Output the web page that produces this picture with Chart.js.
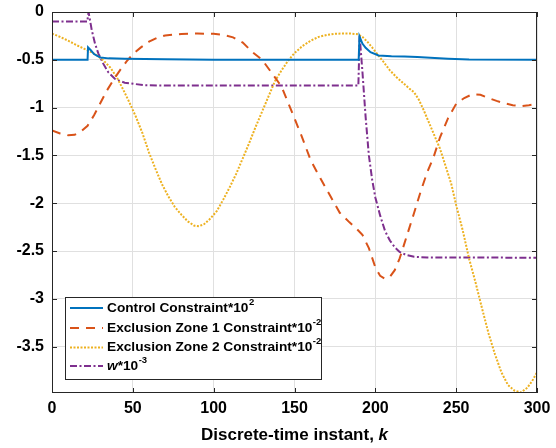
<!DOCTYPE html>
<html>
<head>
<meta charset="utf-8">
<script src="https://cdn.jsdelivr.net/npm/chart.js@4/dist/chart.umd.min.js"></script>
<style>
  html, body { margin: 0; padding: 0; background: #fff; }
  #wrap { width: 556px; height: 448px; }
</style>
</head>
<body>
<div id="wrap"><canvas id="chart" width="556" height="448"></canvas></div>
<script>
// ---- data ----
const controlK = [0, 22, 22.3, 24, 26, 28, 30, 35, 45, 70, 100, 189.7, 190.2, 192, 194, 197, 202, 210, 218, 226, 234, 245, 258, 300];
const controlY = [-0.5, -0.5, -0.37, -0.40, -0.44, -0.46, -0.475, -0.485, -0.49, -0.495, -0.5, -0.5, -0.255, -0.33, -0.375, -0.42, -0.455, -0.462, -0.465, -0.47, -0.478, -0.488, -0.496, -0.5];

const zone1K = [0, 5, 10, 14, 18, 22, 26, 30, 34, 38, 42, 46, 50, 55, 60, 65, 70, 80, 90, 100, 106, 112, 118, 124, 130, 136, 142, 148, 154, 160, 166, 172, 178, 184, 188, 192, 196, 200, 203, 206, 209, 212, 215, 218, 221, 224, 228, 232, 236, 240, 245, 250, 255, 260, 265, 270, 275, 280, 285, 290, 295, 300];
const zone1Y = [-1.24, -1.27, -1.29, -1.285, -1.25, -1.19, -1.08, -0.95, -0.82, -0.71, -0.61, -0.52, -0.44, -0.37, -0.31, -0.27, -0.245, -0.23, -0.225, -0.228, -0.24, -0.265, -0.32, -0.42, -0.50, -0.64, -0.78, -1.03, -1.28, -1.55, -1.74, -1.92, -2.1, -2.2, -2.26, -2.33, -2.47, -2.67, -2.76, -2.79, -2.77, -2.70, -2.58, -2.42, -2.26, -2.1, -1.88, -1.68, -1.52, -1.31, -1.11, -0.96, -0.9, -0.86, -0.865, -0.9, -0.93, -0.955, -0.975, -0.985, -0.975, -0.96];

const zone2K = [0, 5, 10, 15, 20, 25, 28, 32, 36, 40, 44, 48, 52, 56, 60, 64, 68, 72, 76, 80, 84, 88, 91, 94, 98, 102, 106, 110, 114, 118, 122, 126, 130, 134, 138, 142, 146, 150, 155, 160, 165, 170, 175, 180, 185, 189, 192, 195, 198, 201, 205, 209, 213, 217, 221, 224, 227, 230, 233, 236, 240, 244, 247, 250, 254, 258, 262, 266, 270, 274, 278, 282, 286, 290, 294, 297, 300];
const zone2Y = [-0.226, -0.26, -0.30, -0.345, -0.385, -0.425, -0.455, -0.51, -0.58, -0.68, -0.81, -0.95, -1.1, -1.27, -1.47, -1.64, -1.80, -1.93, -2.04, -2.12, -2.19, -2.235, -2.24, -2.22, -2.16, -2.08, -1.96, -1.83, -1.69, -1.53, -1.37, -1.2, -1.04, -0.88, -0.72, -0.61, -0.51, -0.43, -0.355, -0.3, -0.26, -0.24, -0.228, -0.225, -0.226, -0.232, -0.26, -0.31, -0.37, -0.435, -0.52, -0.61, -0.68, -0.74, -0.80, -0.84, -0.92, -1.03, -1.15, -1.27, -1.43, -1.64, -1.80, -2.02, -2.28, -2.58, -2.83, -3.1, -3.36, -3.58, -3.77, -3.9, -3.96, -3.98, -3.93, -3.86, -3.77];

const wK = [0, 21.8, 22.6, 24.6, 26.6, 28.7, 31.7, 34.8, 39, 45, 57, 70, 189.5, 190.3, 192, 194, 196, 198, 200, 203, 206, 209, 212, 215, 219, 224, 232, 300];
const wY = [-0.1, -0.1, 0, -0.19, -0.33, -0.435, -0.54, -0.63, -0.70, -0.74, -0.765, -0.77, -0.77, -0.25, -0.62, -1.1, -1.5, -1.75, -1.94, -2.13, -2.29, -2.39, -2.46, -2.51, -2.54, -2.56, -2.567, -2.57];

const xTicks = [0, 50, 100, 150, 200, 250, 300];
const yTicks = [0, -0.5, -1, -1.5, -2, -2.5, -3, -3.5];

const legendItems = [
  { base: "Control Constraint*10", sup: "2", italic: "" },
  { base: "Exclusion Zone 1 Constraint*10", sup: "-2", italic: "" },
  { base: "Exclusion Zone 2 Constraint*10", sup: "-2", italic: "" },
  { base: "*10", sup: "-3", italic: "w" },
];

const colors = ["#0072BD", "#D95319", "#EDB120", "#7E2F8E"];
const dashes = [[], [9, 7], [2, 1.5], [7, 2.5, 2, 2.5]];
const FONT = "'Liberation Sans', Arial, Helvetica, sans-serif";

function pts(ks, ys) {
  return ks.map((k, i) => ({ x: k, y: ys[i] }));
}

// ---- box, inward ticks, legend and x title ----
const decorPlugin = {
  id: "decor",
  afterDatasetsDraw(chart) {
    const { ctx, chartArea: a, scales } = chart;
    ctx.save();
    ctx.strokeStyle = "#262626";
    ctx.lineWidth = 1;
    ctx.strokeRect(a.left + 0.5, a.top + 0.5, a.right - a.left - 1, a.bottom - a.top - 1);
    ctx.beginPath();
    xTicks.forEach((v) => {
      const px = Math.round(scales.x.getPixelForValue(v)) + 0.5;
      ctx.moveTo(px, a.bottom); ctx.lineTo(px, a.bottom - 5);
      ctx.moveTo(px, a.top); ctx.lineTo(px, a.top + 5);
    });
    yTicks.forEach((v) => {
      const py = Math.round(scales.y.getPixelForValue(v)) + 0.5;
      ctx.moveTo(a.left, py); ctx.lineTo(a.left + 5, py);
      ctx.moveTo(a.right, py); ctx.lineTo(a.right - 5, py);
    });
    ctx.stroke();

    // legend
    const box = { x: 65, y: 297, w: 256, h: 82 };
    ctx.fillStyle = "#fff";
    ctx.fillRect(box.x, box.y, box.w, box.h);
    ctx.strokeStyle = "#262626";
    ctx.strokeRect(box.x + 0.5, box.y + 0.5, box.w, box.h);
    const rows = [308, 328, 347.5, 366];
    legendItems.forEach((it, i) => {
      const y = rows[i];
      ctx.strokeStyle = colors[i];
      ctx.lineWidth = 2;
      ctx.setLineDash(dashes[i]);
      ctx.beginPath();
      ctx.moveTo(70, y); ctx.lineTo(103, y);
      ctx.stroke();
      ctx.setLineDash([]);
      ctx.fillStyle = "#000";
      ctx.textBaseline = "middle";
      ctx.textAlign = "left";
      let x = 107;
      if (it.italic) {
        ctx.font = "italic bold 13.7px " + FONT;
        ctx.fillText(it.italic, x, y);
        x += ctx.measureText(it.italic).width;
      }
      ctx.font = "bold 13.7px " + FONT;
      ctx.fillText(it.base, x, y);
      x += ctx.measureText(it.base).width;
      ctx.font = "bold 9.5px " + FONT;
      ctx.fillText(it.sup, x + 0.5, y - 6);
    });

    // x-axis title
    ctx.fillStyle = "#000";
    ctx.textBaseline = "middle";
    ctx.textAlign = "left";
    const t1 = "Discrete-time instant, ";
    const t2 = "k";
    ctx.font = "bold 17px " + FONT;
    const w1 = ctx.measureText(t1).width;
    ctx.font = "italic bold 17px " + FONT;
    const w2 = ctx.measureText(t2).width;
    const cx = (a.left + a.right) / 2;
    let sx = cx - (w1 + w2) / 2;
    ctx.font = "bold 17px " + FONT;
    ctx.fillText(t1, sx, 435);
    ctx.font = "italic bold 17px " + FONT;
    ctx.fillText(t2, sx + w1, 435);
    ctx.restore();
  },
};

const seriesK = [controlK, zone1K, zone2K, wK];
const seriesY = [controlY, zone1Y, zone2Y, wY];
const names = ["Control Constraint*10^2", "Exclusion Zone 1 Constraint*10^-2", "Exclusion Zone 2 Constraint*10^-2", "w*10^-3"];

new Chart(document.getElementById("chart").getContext("2d"), {
  type: "line",
  data: {
    datasets: names.map((name, i) => ({
      label: name,
      data: pts(seriesK[i], seriesY[i]),
      borderColor: colors[i],
      borderDash: dashes[i],
      borderWidth: 2,
      pointRadius: 0,
      tension: 0,
      fill: false,
    })),
  },
  options: {
    responsive: false,
    animation: false,
    layout: { padding: { top: 12, right: 19, left: 0, bottom: 0 } },
    plugins: { legend: { display: false }, tooltip: { enabled: false } },
    scales: {
      x: {
        type: "linear",
        min: 0,
        max: 300,
        afterFit(s) { s.height = 55; s.paddingLeft = 0; s.paddingRight = 0; },
        afterBuildTicks(s) { s.ticks = xTicks.map((v) => ({ value: v })); },
        ticks: {
          color: "#000",
          font: { family: FONT, size: 16, weight: "bold" },
          padding: 6,
          maxRotation: 0,
        },
        grid: { color: "#e0e0e0", drawTicks: false },
        border: { display: false },
      },
      y: {
        type: "linear",
        min: -3.985,
        max: 0,
        afterFit(s) { s.width = 52; s.paddingTop = 0; s.paddingBottom = 0; },
        afterBuildTicks(s) { s.ticks = yTicks.map((v) => ({ value: v })); },
        ticks: {
          color: "#000",
          font: { family: FONT, size: 16, weight: "bold" },
          padding: 8,
          callback: (v) => String(v),
        },
        grid: { color: "#e0e0e0", drawTicks: false },
        border: { display: false },
      },
    },
  },
  plugins: [decorPlugin],
});
</script>
</body>
</html>
